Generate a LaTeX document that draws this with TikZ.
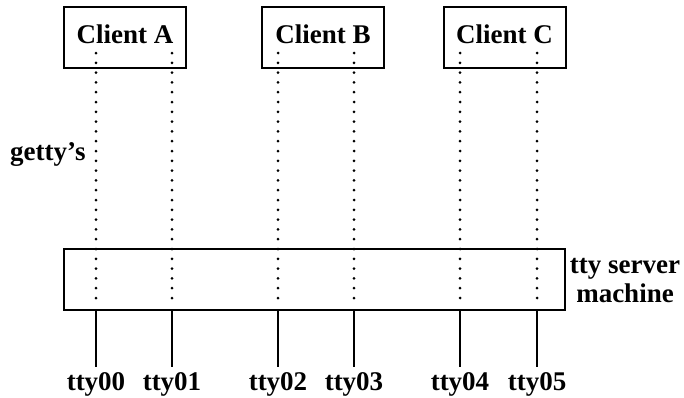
\documentclass[tikz,border=0pt]{standalone}
\usepackage{fontspec}
\setmainfont{Liberation Serif}
\usetikzlibrary{positioning, calc}

\begin{document}
\begin{tikzpicture}[x=1pt, y=-1pt,
    client/.style={rectangle, draw, line width=2pt, minimum width=122pt,
                   minimum height=61pt, text depth=6pt, inner sep=0pt,
                   font=\fontsize{27}{29}\selectfont\bfseries},
    srv/.style={rectangle, draw, line width=2pt, minimum width=501pt,
                minimum height=61pt},
    lbl/.style={font=\fontsize{27}{29}\selectfont\bfseries, inner sep=0pt},
    getty/.style={line width=3pt, line cap=round,
                  dash pattern=on 0pt off 9.8pt},
    wire/.style={line width=2pt}
]
\useasboundingbox (0,0) rectangle (684,397);

%% ── CLIENTS ─────────────────────────────────────────────────────────────────
\node[client] (clientA) at (125, 37.5)  {Client A};
\node[client] (clientB) at (323, 37.5)  {Client B};
\node[client] (clientC) at (504.5,37.5) {Client C};

%% ── SERVER ──────────────────────────────────────────────────────────────────
\node[srv] (server) at (314.5, 279.5) {};
\node[lbl, align=center, anchor=base] (srvlbl) at (625, 302)
     {tty server\\machine};
\node[lbl, anchor=base west] (gettys) at (10, 160) {getty’s};

%% ── PORTS ───────────────────────────────────────────────────────────────────
\foreach \i/\x/\c in {0/96/A, 1/172/A, 2/278/B, 3/354/B, 4/460/C, 5/537/C} {
    \node[lbl, anchor=base] (tty0\i) at (\x, 390) {tty0\i};
    % getty line
    \draw[getty] ($(client\c.south -| tty0\i)+(0,-16)$)
                 -- ($(server.south -| tty0\i)+(0,-10)$);
    % serial line
    \draw[wire] (server.south -| tty0\i) -- ($(tty0\i.north)+(0,-5)$);
}

\end{tikzpicture}
\end{document}
